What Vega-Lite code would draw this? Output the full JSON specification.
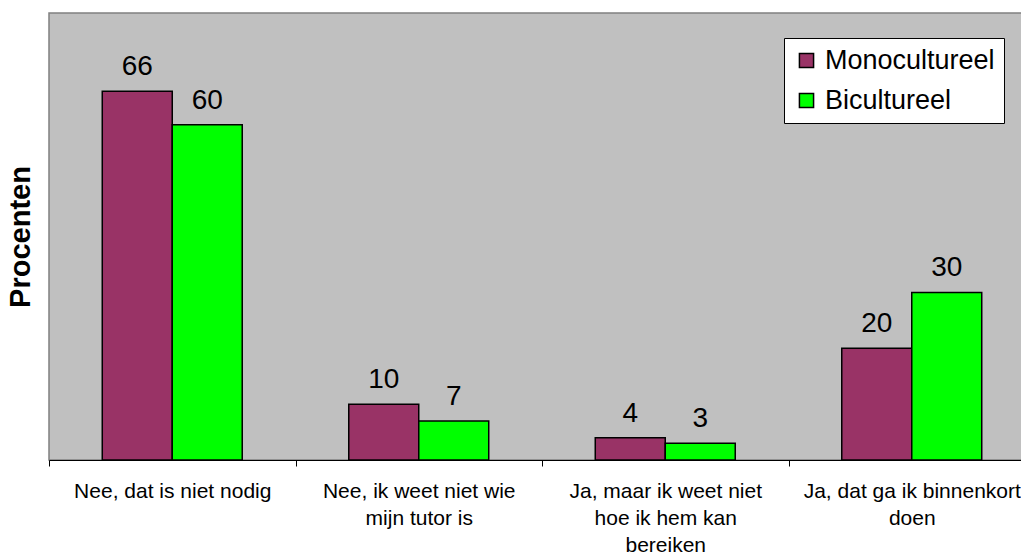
{
  "$schema": "https://vega.github.io/schema/vega-lite/v6.json",
  "width": 986,
  "height": 447,
  "autosize": {"type": "none"},
  "padding": {"left": 49, "top": 13, "right": 0, "bottom": 99},
  "background": "white",
  "config": {
    "font": "Liberation Sans",
    "view": {"fill": "#C0C0C0", "stroke": "#808080", "strokeWidth": 1.5}
  },
  "data": {
    "values": [
      {"cat": "Nee, dat is niet nodig", "group": "Monocultureel", "value": 66},
      {"cat": "Nee, dat is niet nodig", "group": "Bicultureel", "value": 60},
      {"cat": "Nee, ik weet niet wie|mijn tutor is", "group": "Monocultureel", "value": 10},
      {"cat": "Nee, ik weet niet wie|mijn tutor is", "group": "Bicultureel", "value": 7},
      {"cat": "Ja, maar ik weet niet|hoe ik hem kan|bereiken", "group": "Monocultureel", "value": 4},
      {"cat": "Ja, maar ik weet niet|hoe ik hem kan|bereiken", "group": "Bicultureel", "value": 3},
      {"cat": "Ja, dat ga ik binnenkort|doen", "group": "Monocultureel", "value": 20},
      {"cat": "Ja, dat ga ik binnenkort|doen", "group": "Bicultureel", "value": 30}
    ]
  },
  "encoding": {
    "x": {
      "field": "cat",
      "type": "nominal",
      "sort": null,
      "scale": {"paddingInner": 0, "paddingOuter": 0},
      "axis": {
        "title": null,
        "labelAngle": 0,
        "tickBand": "extent",
        "domainColor": "black",
        "domainWidth": 1,
        "tickColor": "black",
        "tickSize": 6,
        "labelFontSize": 21,
        "labelColor": "black",
        "labelPadding": 14,
        "labelLineHeight": 27,
        "labelLimit": 400,
        "labelExpr": "datum.value ? split(datum.value, '|') : ''"
      }
    },
    "xOffset": {
      "field": "group",
      "type": "nominal",
      "sort": ["Monocultureel", "Bicultureel"],
      "scale": {"paddingInner": 0, "paddingOuter": 0.761}
    },
    "y": {
      "field": "value",
      "type": "quantitative",
      "scale": {"domain": [0, 80]},
      "axis": {
        "title": "Procenten",
        "labels": false,
        "ticks": false,
        "domain": false,
        "grid": false,
        "titleFontSize": 29,
        "titleFontWeight": "bold",
        "titleColor": "black",
        "titlePadding": 14
      }
    }
  },
  "layer": [
    {
      "mark": {"type": "bar", "stroke": "black", "strokeWidth": 1.5},
      "encoding": {
        "color": {
          "field": "group",
          "type": "nominal",
          "sort": ["Monocultureel", "Bicultureel"],
          "scale": {"domain": ["Monocultureel", "Bicultureel"], "range": ["#993366", "#00FF00"]},
          "legend": {
            "title": null,
            "orient": "none",
            "legendX": 735,
            "legendY": 25,
            "fillColor": "white",
            "strokeColor": "black",
            "padding": 9,
            "symbolType": "square",
            "symbolSize": 200,
            "symbolStrokeColor": "black",
            "symbolStrokeWidth": 1.5,
            "symbolOpacity": 1,
            "labelFontSize": 27,
            "labelColor": "black",
            "labelOffset": 5,
            "labelLimit": 400,
            "rowPadding": 12
          }
        }
      }
    },
    {
      "mark": {"type": "text", "fontSize": 28, "color": "black", "baseline": "alphabetic", "dy": -16},
      "encoding": {
        "text": {"field": "value", "type": "quantitative"}
      }
    }
  ]
}
